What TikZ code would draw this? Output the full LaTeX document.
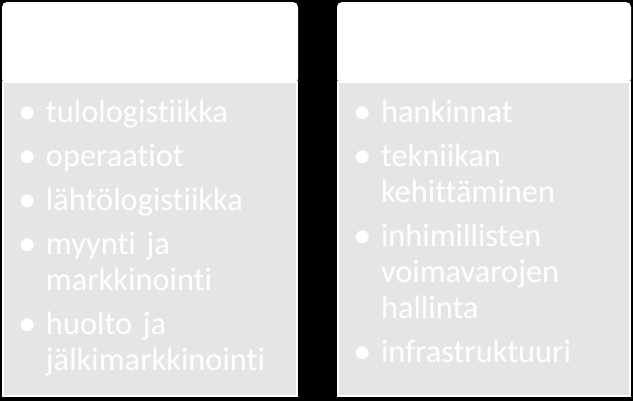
\documentclass[tikz,border=0pt]{standalone}
\usepackage{fontspec}
\setmainfont{Carlito}[Ligatures=NoCommon]
\usetikzlibrary{positioning}

\definecolor{runkoharmaa}{HTML}{E5E5E5}

% one bullet item, hanging indent for the following lines
\newcommand{\kohta}[1]{\par\hangindent=20.25pt\hangafter=1\noindent\strut\makebox[20.25pt][l]{\hspace{-0.02em}\raisebox{-0.05em}{\scalebox{1.12}{\textbullet}}}#1\par}

\begin{document}
\begin{tikzpicture}[x=0.75pt, y=-0.75pt,
    otsikko/.style={rectangle, fill=white, rounded corners=3.75pt, inner sep=0pt, outer sep=0pt, anchor=north west, minimum height=61.5pt},
    runko/.style={rectangle, fill=runkoharmaa, draw=white, line width=0.9pt, inner sep=0pt, outer sep=0pt, anchor=north west, minimum height=235.5pt},
    lista/.style={inner sep=0pt, outer sep=0pt, text=white, align=left, text width=207pt,
        font=\fontsize{24.3pt}{27pt}\selectfont\setlength{\parskip}{6pt}}]
    \useasboundingbox (0,0) rectangle (633,401);
    \fill[black] (0,0) rectangle (633,401);

    \node[otsikko, minimum width=222pt] (vo) at (2,2) {};
    \node[otsikko, minimum width=220.5pt] (oo) at (337,2) {};

    \node[runko, minimum width=220.5pt] (vr) at (3,82) {};
    \node[runko, minimum width=219pt] (or) at (338,82) {};

    \node[lista, below right=-3pt and 12pt of vr.north west] (vl) {%
        \kohta{tulologistiikka}
        \kohta{operaatiot}
        \kohta{lähtölogistiikka}
        \kohta{myynti ja\newline markkinointi}
        \kohta{huolto ja\newline jälkimarkkinointi}};
    \node[lista, below right=-3pt and 12pt of or.north west] (ol) {%
        \kohta{hankinnat}
        \kohta{tekniikan\newline kehittäminen}
        \kohta{inhimillisten\newline voimavarojen\newline hallinta}
        \kohta{infrastruktuuri}};
\end{tikzpicture}
\end{document}
